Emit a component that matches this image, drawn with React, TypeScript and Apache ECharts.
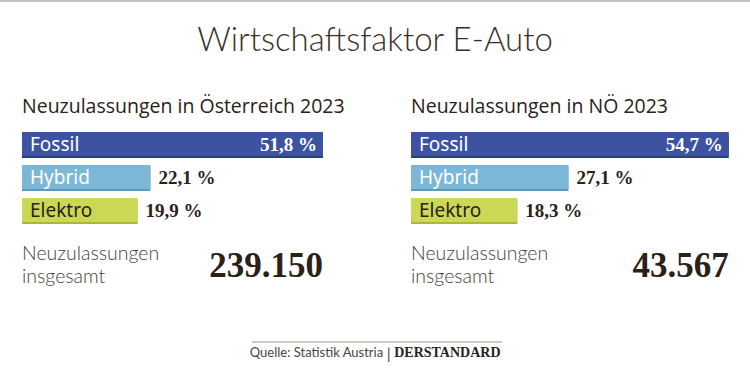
import React, { useEffect, useRef } from "react";
import * as echarts from "echarts";

const categories = ["Fossil", "Hybrid", "Elektro"];
const valuesAT = [51.8, 22.1, 19.9];
const valuesNOE = [54.7, 27.1, 18.3];
const panelTitles = ["Neuzulassungen in Österreich 2023", "Neuzulassungen in NÖ 2023"];
const totalLines = ["Neuzulassungen", "insgesamt"];
const totals = ["239.150", "43.567"];
const barColors = ["#3d52a2", "#7cb7d8", "#cad856"];
const barEdge = ["#2c3d80", "#5e98bb", "#a9b83c"];
const nameColors = ["#ffffff", "#ffffff", "#2a2119"];

const SANS = "'Noto Sans', 'Open Sans', sans-serif";
const MED = "'Open Sans', 'Noto Sans', sans-serif";
const LIGHT = "Lato, 'Open Sans', sans-serif";
const SERIF = "'Liberation Serif', 'DejaVu Serif', serif";
const DARK = "#2b2118";

const fmt = (v: number) => v.toFixed(1).replace(".", ",") + " %";

export default function App() {
  const ref = useRef<HTMLDivElement>(null);
  useEffect(() => {
    document.body.style.margin = "0";
    if (!ref.current) return;
    const chart = echarts.init(ref.current, null, { renderer: "svg" });
    const xMax = 55;
    const pxPer = 5.81;
    const lefts = [22, 411];
    const datasets = [valuesAT, valuesNOE];
    const grids = lefts.map((l) => ({ left: l, width: xMax * pxPer, top: 127.5, height: 99 }));
    const xAxes = lefts.map((_, i) => ({ type: "value", gridIndex: i, min: 0, max: xMax, show: false }));
    const yAxes = lefts.map((_, i) => ({
      type: "category", gridIndex: i, data: categories, inverse: true, show: false,
    }));
    const series: any[] = [];
    datasets.forEach((vals, p) => {
      series.push({
        type: "bar", xAxisIndex: p, yAxisIndex: p, barWidth: 24, barGap: "-100%",
        data: vals.map((v, i) => ({
          value: v,
          itemStyle: { color: barColors[i], shadowColor: barEdge[i], shadowOffsetY: 2, shadowBlur: 0 },
          label: {
            show: true, position: "insideLeft", distance: 8, formatter: categories[i],
            color: nameColors[i], fontFamily: SANS, fontSize: 19,
          },
        })),
      });
      series.push({
        type: "bar", xAxisIndex: p, yAxisIndex: p, barWidth: 24, barGap: "-100%",
        itemStyle: { color: "rgba(0,0,0,0)" },
        data: vals.map((v, i) => ({
          value: v,
          label: {
            show: true,
            position: i === 0 ? "insideRight" : "right",
            distance: i === 0 ? 6 : 8,
            formatter: fmt(v),
            color: i === 0 ? "#ffffff" : DARK,
            fontFamily: SERIF, fontWeight: "bold", fontSize: 19,
          },
        })),
      });
    });
    const graphic: any[] = [
      { type: "rect", shape: { x: 0, y: 0, width: 750, height: 2 }, style: { fill: "#c4c4c4" } },
      {
        type: "text", x: 375, y: 38,
        style: { text: "Wirtschaftsfaktor E-Auto", fontFamily: LIGHT, fontWeight: 300, fontSize: 33, fill: "#3a3028", align: "center", verticalAlign: "middle" },
      },
      { type: "line", shape: { x1: 252, y1: 342, x2: 502, y2: 342 }, style: { stroke: "#9a948c", lineWidth: 1 } },
      {
        type: "text", x: 375, y: 352,
        style: {
          text: "{a|Quelle: Statistik Austria }{b||}{c| DERSTANDARD}",
          align: "center", verticalAlign: "middle",
          rich: {
            a: { fontFamily: LIGHT, fontSize: 13, fill: "#4d443b" },
            b: { fontFamily: LIGHT, fontSize: 16, fill: "#4d443b" },
            c: { fontFamily: SERIF, fontWeight: "bold", fontSize: 14, fill: DARK },
          },
        },
      },
    ];
    lefts.forEach((l, p) => {
      const right = l + datasets[p][0] * pxPer;
      graphic.push({
        type: "text", x: l, y: 105,
        style: { text: panelTitles[p], fontFamily: MED, fontWeight: 500, fontSize: 19.5, fill: DARK, verticalAlign: "middle" },
      });
      totalLines.forEach((t, k) => {
        graphic.push({
          type: "text", x: l, y: 252 + k * 23,
          style: { text: t, fontFamily: LIGHT, fontWeight: 300, fontSize: 19.5, fill: "#4a4139", verticalAlign: "middle" },
        });
      });
      graphic.push({
        type: "text", x: right, y: 265,
        style: { text: totals[p], fontFamily: SERIF, fontWeight: "bold", fontSize: 35, fill: DARK, align: "right", verticalAlign: "middle" },
      });
    });
    chart.setOption({
      animation: false,
      backgroundColor: "#ffffff",
      grid: grids, xAxis: xAxes, yAxis: yAxes, series, graphic,
    });
    return () => chart.dispose();
  }, []);
  return <div ref={ref} style={{ width: 750, height: 375 }} />;
}
